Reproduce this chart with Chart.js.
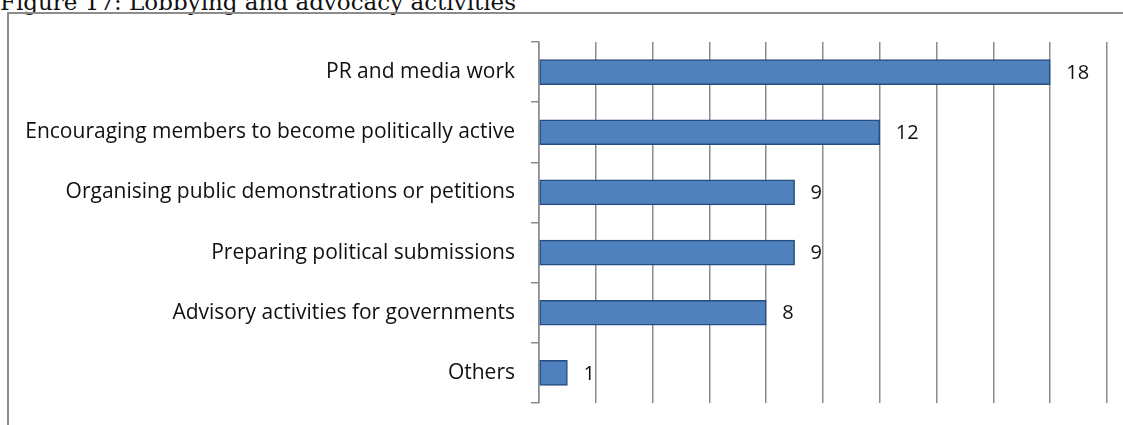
<!DOCTYPE html>
<html>
<head>
<meta charset="utf-8">
<script src="https://cdn.jsdelivr.net/npm/chart.js@4"></script>
<style>
  html, body { margin: 0; padding: 0; background: #fff; overflow: hidden; }
  #wrap { position: relative; width: 1123px; height: 425px; }
  #title {
    position: absolute; left: 0; top: -9px;
    font-family: "DejaVu Serif", serif; font-size: 23px; line-height: 23px; color: #111;
    white-space: nowrap;
  }
  #frame {
    position: absolute; left: 7px; top: 12px; width: 1200px; height: 500px;
    border-left: 2px solid #8c8c8c; border-top: 2px solid #8c8c8c;
  }
  #chart { position: absolute; left: 0; top: 0; }
</style>
</head>
<body>
<div id="wrap">
  <div id="title">Figure 17: Lobbying and advocacy activities</div>
  <div id="frame"></div>
  <canvas id="chart" width="1123" height="425"></canvas>
</div>
<script>
// Lobbying and advocacy activities
const activities = [
  'PR and media work',
  'Encouraging members to become politically active',
  'Organising public demonstrations or petitions',
  'Preparing political submissions',
  'Advisory activities for governments',
  'Others'
];
const counts = [18, 12, 9, 9, 8, 1];
const axisMax = 20;
const axisStep = 2;

const labelFont = '"Open Sans", sans-serif';

// value labels to the right of each bar
const valueLabels = {
  id: 'valueLabels',
  afterDatasetsDraw(chart) {
    const ctx = chart.ctx;
    const meta = chart.getDatasetMeta(0);
    ctx.save();
    ctx.font = '20px ' + labelFont;
    ctx.fillStyle = '#111';
    ctx.textAlign = 'left';
    ctx.textBaseline = 'middle';
    meta.data.forEach((bar, i) => {
      ctx.fillText(String(counts[i]), bar.x + 16, bar.y + 1);
    });
    ctx.restore();
  }
};

new Chart(document.getElementById('chart'), {
  type: 'bar',
  data: {
    labels: activities,
    datasets: [{
      data: counts,
      backgroundColor: '#4f81bd',
      borderColor: '#264d80',
      borderWidth: 1.5,
      borderSkipped: false,
      barThickness: 25
    }]
  },
  options: {
    indexAxis: 'y',
    responsive: false,
    animation: false,
    layout: { padding: { left: 0, top: 42, right: 16, bottom: 22 } },
    plugins: { legend: { display: false }, tooltip: { enabled: false } },
    scales: {
      x: {
        min: 0,
        max: axisMax,
        afterFit(scale) { scale.height = 0; },
        ticks: { display: false, stepSize: axisStep },
        border: { display: false },
        grid: { color: '#8c8c8c', lineWidth: 1.5, drawTicks: false }
      },
      y: {
        afterFit(scale) {
          scale.width = 539;
          scale.paddingTop = 0;
          scale.paddingBottom = 0;
        },
        ticks: {
          color: '#111',
          font: { family: labelFont, size: 21 },
          padding: 16
        },
        border: { display: true, color: '#8c8c8c', width: 1.5 },
        grid: {
          offset: true,
          drawOnChartArea: false,
          color: '#8c8c8c',
          lineWidth: 1.5,
          tickLength: 8
        }
      }
    }
  },
  plugins: [valueLabels]
});
</script>
</body>
</html>
